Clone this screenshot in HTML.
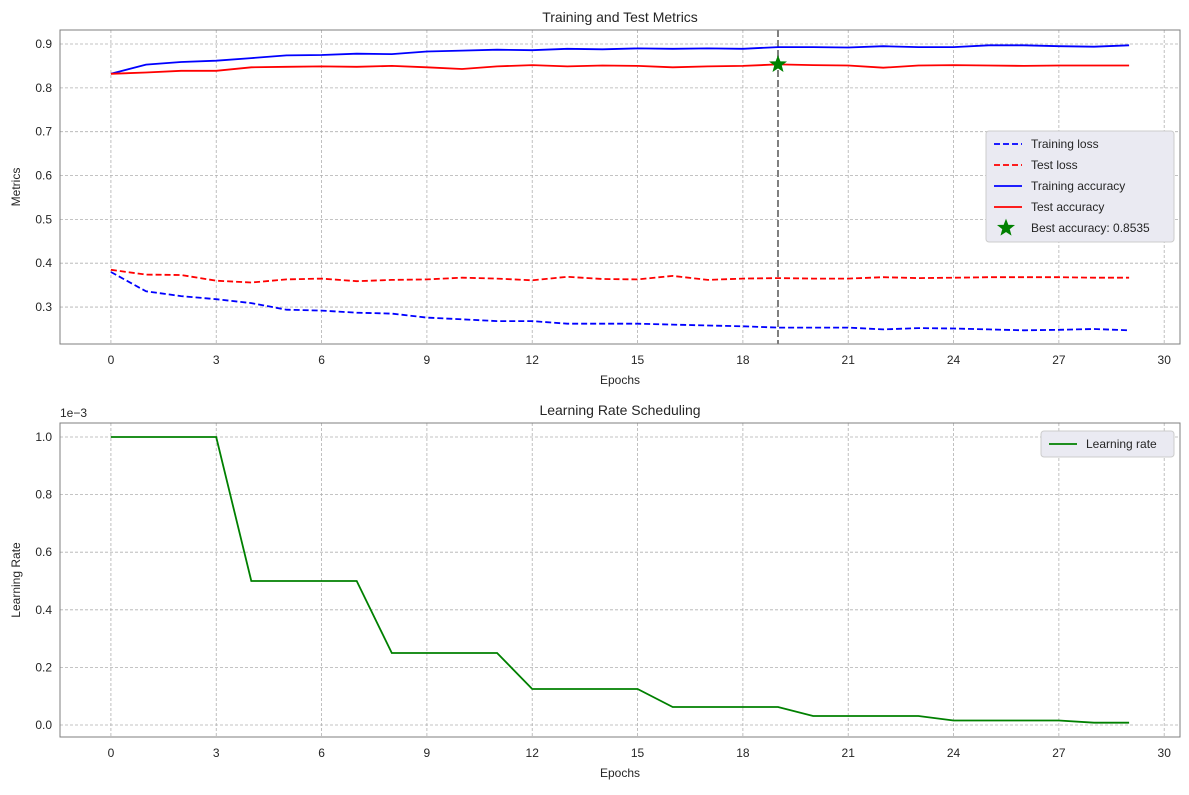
<!DOCTYPE html>
<html><head><meta charset="utf-8"><style>
body{margin:0;background:#fff;font-family:"Liberation Sans",Arial,sans-serif;}
svg text{font-family:"Liberation Sans",Arial,sans-serif;fill:#262626;}
</style></head><body>
<svg id="c" width="1189" height="790" xmlns="http://www.w3.org/2000/svg"></svg>
<script>
const epochs=[...Array(30).keys()];
const trainAcc=[0.832,0.853,0.859,0.862,0.868,0.874,0.875,0.878,0.877,0.883,0.885,0.887,0.886,0.889,0.888,0.890,0.889,0.890,0.889,0.893,0.893,0.892,0.895,0.893,0.893,0.897,0.897,0.895,0.894,0.897];
const testAcc=[0.832,0.835,0.839,0.839,0.847,0.848,0.849,0.848,0.850,0.847,0.843,0.849,0.852,0.849,0.851,0.850,0.847,0.849,0.850,0.8535,0.852,0.851,0.846,0.851,0.852,0.851,0.850,0.851,0.851,0.851];
const trainLoss=[0.380,0.336,0.325,0.318,0.309,0.294,0.292,0.287,0.285,0.276,0.272,0.268,0.268,0.262,0.262,0.262,0.260,0.258,0.256,0.253,0.253,0.253,0.249,0.252,0.251,0.249,0.247,0.248,0.250,0.247];
const testLoss=[0.385,0.374,0.373,0.360,0.356,0.363,0.365,0.359,0.362,0.363,0.367,0.365,0.361,0.369,0.364,0.363,0.371,0.362,0.365,0.366,0.365,0.365,0.368,0.366,0.367,0.368,0.368,0.368,0.367,0.367];
const lr=[1,1,1,1,0.5,0.5,0.5,0.5,0.25,0.25,0.25,0.25,0.125,0.125,0.125,0.125,0.0625,0.0625,0.0625,0.0625,0.03125,0.03125,0.03125,0.03125,0.015625,0.015625,0.015625,0.015625,0.0078125,0.0078125];
const xTicks=[0,3,6,9,12,15,18,21,24,27,30];
const yTicksTop=[0.3,0.4,0.5,0.6,0.7,0.8,0.9];
const yTicksBot=[0.0,0.2,0.4,0.6,0.8,1.0];
const bestEpoch=19, bestAcc=0.8535;

const svg=document.getElementById('c');
const NS='http://www.w3.org/2000/svg';
function el(t,a,p){const e=document.createElementNS(NS,t);for(const k in a)e.setAttribute(k,a[k]);(p||svg).appendChild(e);return e;}
function mkX(l,r){return v=>l+(v-(-1.45))/(31.9)*(r-l);}
function mkY(t,b,lo,hi){return v=>b-(v-lo)/(hi-lo)*(b-t);}

function panel(o){
  const g=el('g',{});
  
  
  const X=mkX(60,1180), Y=mkY(o.top,o.bot,o.lo,o.hi);
  xTicks.forEach(t=>{
    const l=el('line',{x1:X(t),x2:X(t),y1:o.top,y2:o.bot,stroke:'#b0b0b0','stroke-width':0.8,'stroke-dasharray':'3,2'},g);
    
    const tx=el('text',{x:X(t),y:o.bot+20,'text-anchor':'middle','font-size':12},g);tx.textContent=t;
    
  });
  o.yt.forEach(t=>{
    const l=el('line',{x1:60,x2:1180,y1:Y(t),y2:Y(t),stroke:'#b0b0b0','stroke-width':0.8,'stroke-dasharray':'3,2'},g);
    
    const tx=el('text',{x:52,y:Y(t)+4,'text-anchor':'end','font-size':12},g);tx.textContent=t.toFixed(1);
    
  });
  const fr=el('rect',{x:60,y:o.top,width:1120,height:o.bot-o.top,fill:'none',stroke:'#7f7f7f','stroke-width':1},g);
  
  const ti=el('text',{x:620,y:o.top-8,'text-anchor':'middle','font-size':14},g);ti.textContent=o.title;
  
  const xl=el('text',{x:620,y:o.bot+40,'text-anchor':'middle','font-size':12},g);xl.textContent='Epochs';
  
  const yl=el('text',{x:20,y:(o.top+o.bot)/2,'text-anchor':'middle','font-size':12,transform:`rotate(-90 20 ${(o.top+o.bot)/2})`},g);yl.textContent=o.ylab;
  
  return {g,X,Y};
}
function line(p,data,color,dash,name){
  const d=data.map((v,i)=>(i?'L':'M')+p.X(epochs[i]).toFixed(1)+','+p.Y(v).toFixed(1)).join('');
  const e=el('path',{d,fill:'none',stroke:color,'stroke-width':1.8,'stroke-dasharray':dash||'none'},p.g);
  
}
// top
const p1=panel({name:'metrics-panel',top:30,bot:344,lo:0.2157,hi:0.932,yt:yTicksTop,title:'Training and Test Metrics',ylab:'Metrics'});
const vl=el('line',{x1:p1.X(bestEpoch),x2:p1.X(bestEpoch),y1:30,y2:344,stroke:'#7f7f7f','stroke-width':2,'stroke-dasharray':'7,3'},p1.g);

line(p1,trainLoss,'#0000ff','6,3','training-loss-line');
line(p1,testLoss,'#ff0000','6,3','test-loss-line');
line(p1,trainAcc,'#0000ff',null,'training-accuracy-line');
line(p1,testAcc,'#ff0000',null,'test-accuracy-line');
function star(cx,cy,r,parent){let pts=[];for(let i=0;i<10;i++){const a=-Math.PI/2+i*Math.PI/5,rr=i%2?r*0.42:r;pts.push((cx+rr*Math.cos(a)).toFixed(1)+','+(cy+rr*Math.sin(a)).toFixed(1));}return el('polygon',{points:pts.join(' '),fill:'#008000',stroke:'#008000'},parent);}
const st=star(p1.X(bestEpoch),p1.Y(bestAcc),8,p1.g);

// legend top
const lg=el('g',{},p1.g);

el('rect',{x:986,y:131,width:188,height:111,rx:3,fill:'#eaeaf2',stroke:'#cccccc'},lg);
const items=[['Training loss','#0000ff','6,3'],['Test loss','#ff0000','6,3'],['Training accuracy','#0000ff',null],['Test accuracy','#ff0000',null],['Best accuracy: 0.8535',null,null]];
items.forEach((it,i)=>{
  const y=144+i*21;
  if(it[1]){const l=el('line',{x1:994,x2:1022,y1:y,y2:y,stroke:it[1],'stroke-width':1.8,'stroke-dasharray':it[2]||'none'},lg);}
  else{const s=star(1006,y,8,lg);}
  const t=el('text',{x:1031,y:y+4,'font-size':12},lg);t.textContent=it[0];
  
});
// bottom
const p2=panel({name:'learning-rate-panel',top:423,bot:737,lo:-0.0417,hi:1.0486,yt:yTicksBot,title:'Learning Rate Scheduling',ylab:'Learning Rate'});
line(p2,lr,'#008000',null,'learning-rate-line');
const ex=el('text',{x:60,y:417,'font-size':12},p2.g);ex.textContent='1e−3';

const lg2=el('g',{},p2.g);

el('rect',{x:1041,y:431,width:133,height:26,rx:3,fill:'#eaeaf2',stroke:'#cccccc'},lg2);
el('line',{x1:1049,x2:1077,y1:444,y2:444,stroke:'#008000','stroke-width':1.8},lg2);
const t2=el('text',{x:1086,y:448,'font-size':12},lg2);t2.textContent='Learning rate';

</script>
</body></html>
